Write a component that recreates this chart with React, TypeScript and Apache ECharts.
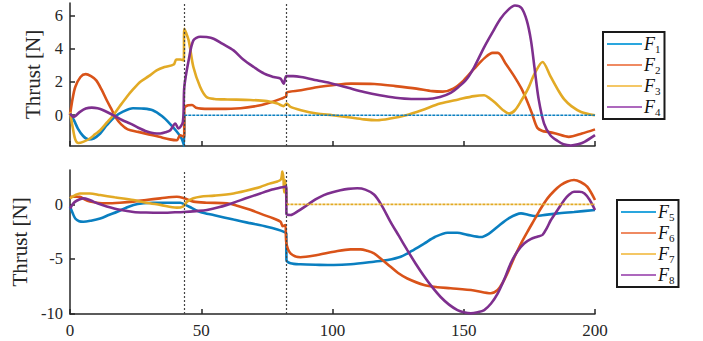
import React, { useEffect, useRef } from 'react';
import * as echarts from 'echarts';

// ---- axes / ticks ----
const xTicks = [0, 50, 100, 150, 200];
const topYTicks = [0, 2, 4, 6];
const bottomYTicks = [-10, -5, 0];
const switchTimes = [43.5, 82.4];
const yLabel = 'Thrust [N]';

const topNames = ['F1', 'F2', 'F3', 'F4'];
const bottomNames = ['F5', 'F6', 'F7', 'F8'];

// ---- top panel series [time, thrust] ----
const topF1 = [[0,0.1],[1.5,-0.3],[3,-0.8],[5,-1.25],[7,-1.45],[9,-1.4],[11.5,-1.1],[14,-0.6],[17,-0.1],[20,0.2],[24,0.42],[28,0.4],[31.5,0.3],[35,-0.05],[38,-0.5],[40.5,-0.95],[42.5,-1.4],[43.5,-1.85],[43.55,0]];
const topF1Flat = [[43.55,0],[200,0]];
const topF2 = [[0,0],[1,1.0],[2,1.7],[4,2.3],[6,2.47],[8,2.35],[10,2.1],[12,1.55],[14,0.9],[16,0.3],[17.5,-0.15],[19.5,-0.55],[22,-0.85],[26,-1.0],[30,-1.15],[34,-1.3],[38,-1.45],[40.7,-1.5],[42,-1.2],[43.5,-1.3],[43.55,0.4],[45,0.6],[46.5,0.62],[48,0.45],[50,0.4],[57,0.38],[65,0.42],[71,0.55],[75,0.7],[80.5,1.0],[82.4,1.15],[82.45,1.35],[88,1.5],[94,1.68],[100,1.8],[107,1.9],[116,1.88],[124,1.75],[132,1.6],[138,1.45],[142,1.42],[146,1.6],[150,2.1],[154,2.8],[158,3.45],[161,3.75],[163,3.75],[166,3.1],[169,2.4],[172,1.6],[174,0.9],[176,0.1],[178,-0.75],[180,-0.95],[182,-1.0],[185,-1.1],[190,-1.3],[195,-1.1],[200,-0.85]];
const topF3 = [[0,0.2],[1,-0.7],[2,-1.45],[3.2,-1.67],[5,-1.6],[7.6,-1.4],[9.5,-1.15],[11.5,-0.9],[14,-0.45],[16.5,0],[19,0.55],[21.6,1.1],[24,1.55],[26.7,2.0],[30,2.35],[33,2.7],[36,2.9],[39.5,3.05],[40.5,3.35],[42,3.35],[43.3,3.3],[43.55,5.2],[45.2,4.5],[47,2.9],[49.6,1.7],[52,1.1],[55,0.98],[60,0.95],[68.7,0.92],[75,0.85],[79,0.7],[81.4,0.55],[82.5,0.7],[84,0.5],[88,0.3],[94,0.1],[100,0],[106,-0.12],[112,-0.25],[117,-0.3],[122,-0.2],[128,0],[134,0.3],[141,0.7],[148,0.95],[154,1.15],[157.8,1.2],[160,1.0],[162,0.75],[165,0.3],[167.3,0.1],[169.5,0.3],[172,0.9],[174.5,1.6],[177,2.5],[180,3.2],[183,2.35],[186,1.5],[188.3,0.95],[191,0.55],[194.7,0.2],[200,0]];
const topF4 = [[0,0.1],[1.3,-0.1],[3.8,0.2],[6,0.4],[8.3,0.46],[10.5,0.42],[12.7,0.3],[16.5,0],[20,-0.3],[23,-0.5],[26,-0.75],[29.3,-0.98],[32,-1.08],[34.4,-1.1],[36.5,-1.02],[38.2,-0.9],[40.1,-0.5],[41.3,-0.8],[43,-0.4],[43.55,1.7],[45.2,3.3],[47,4.5],[49.6,4.72],[52,4.7],[54.7,4.6],[58,4.3],[62.3,3.9],[66,3.35],[70,2.9],[74,2.5],[77.6,2.3],[80.2,2.2],[81.4,1.9],[82.45,2.35],[85,2.35],[88,2.3],[94,2.1],[100,1.9],[106,1.65],[112,1.4],[118,1.2],[124,1.05],[130,0.98],[136,0.98],[141,1.1],[145,1.35],[148,1.7],[151,2.15],[154,2.9],[157.8,4.1],[161,5.0],[164,5.8],[167,6.35],[169.5,6.6],[172,6.45],[174,5.7],[175.6,4.5],[177,2.8],[178.5,1.0],[180.6,-0.5],[183,-1.2],[185.8,-1.55],[188,-1.75],[190.8,-1.82],[193.5,-1.75],[196,-1.6],[200,-1.2]];

// ---- bottom panel series [time, thrust] ----
const botF5 = [[0,-0.2],[1,-0.8],[2,-1.3],[3.5,-1.55],[5.1,-1.6],[8,-1.5],[11.5,-1.3],[15,-0.95],[17.8,-0.7],[21,-0.35],[24.2,-0.05],[28,0.1],[31.8,0.15],[37,0.15],[42,0.15],[44,-0.05],[46.5,-0.35],[49.6,-0.7],[55,-1.0],[62.3,-1.4],[68,-1.7],[75,-2.05],[79,-2.3],[81.3,-2.5],[82.4,-2.7],[82.45,-5.1],[84,-5.4],[87.8,-5.5],[95,-5.55],[100.5,-5.57],[106.9,-5.5],[115.8,-5.26],[121,-5.1],[126,-4.8],[130,-4.3],[134.9,-3.6],[139,-3.0],[143.8,-2.6],[147.5,-2.6],[151.4,-2.8],[156.5,-3.0],[159.5,-2.7],[162.9,-2.05],[167,-1.3],[171.8,-0.83],[174.5,-0.95],[176.8,-1.07],[180,-1.0],[185.7,-0.83],[192,-0.7],[200,-0.52]];
const botF6 = [[0,0.7],[3.8,0.7],[5.5,0.45],[7.6,0.25],[11,0.12],[14,0.1],[19,0.15],[24.2,0.25],[29,0.4],[34.4,0.55],[40.7,0.7],[43.5,0.55],[47,0.25],[52,0.15],[59.8,0.1],[64,-0.15],[68.7,-0.5],[73,-0.9],[77.6,-1.3],[80.2,-1.6],[81,-2.0],[82,-1.9],[82.45,-3.6],[84,-4.5],[87.8,-4.85],[94.2,-4.65],[100.5,-4.35],[106.9,-4.13],[110.7,-4.13],[113,-4.25],[115.8,-4.5],[119,-5.1],[122,-5.7],[125,-6.3],[128.5,-6.8],[134.9,-7.4],[140,-7.6],[145,-7.7],[153.9,-7.9],[160.3,-8.15],[162.9,-7.85],[164.8,-7.2],[166.7,-6.3],[169,-5.0],[171.8,-3.6],[174.3,-2.5],[176.8,-1.45],[179.3,-0.4],[181.9,0.55],[184.5,1.25],[187,1.77],[189.5,2.1],[192,2.23],[194.5,2.05],[197.1,1.6],[200,0.4]];
const botF7 = [[0,0.55],[2,0.85],[3.8,1.0],[7.6,1.0],[11.5,0.85],[17,0.65],[24.2,0.4],[29,0.15],[34.4,-0.05],[40.7,-0.3],[43,-0.2],[44.6,0.25],[47,0.55],[49.6,0.7],[55,0.8],[62.3,1.0],[67,1.25],[72.5,1.6],[76,1.9],[79,2.1],[80.4,2.3],[80.9,3.0],[81.3,2.4],[81.6,1.1],[82.1,2.2],[82.45,0]];
const botF7Flat = [[82.45,0],[200,0]];
const botF8 = [[0,-0.4],[1,0.0],[2,0.25],[3.5,0.45],[5.1,0.55],[7,0.45],[8.9,0.25],[11.5,0.0],[14,-0.2],[19,-0.5],[24.2,-0.7],[29,-0.75],[34.4,-0.77],[40,-0.73],[43.3,-0.7],[48,-0.62],[52.2,-0.52],[57,-0.25],[62.3,0.15],[67,0.55],[72.5,1.0],[77,1.35],[81.4,1.6],[82.4,1.65],[82.45,-0.85],[84,-0.98],[87,-0.6],[90.3,-0.07],[93.5,0.45],[96.7,0.85],[100,1.12],[103,1.3],[106,1.42],[109.4,1.47],[112.5,1.35],[115.8,0.9],[118.5,0],[122.1,-1.6],[125.3,-2.9],[128.5,-4.2],[131.7,-5.45],[134.9,-6.6],[138,-7.6],[141.2,-8.5],[144.4,-9.2],[147.6,-9.7],[150,-9.9],[152.7,-10.0],[155.3,-9.9],[157.8,-9.7],[160.4,-9.1],[162.9,-8.2],[165.4,-6.9],[167.9,-5.4],[170.5,-4.3],[173,-3.6],[175.5,-3.2],[178,-2.97],[180,-2.8],[181.6,-2.2],[183.2,-1.44],[185.8,-0.5],[188.3,0.4],[190.2,0.9],[192,1.15],[194,1.15],[196,1.0],[198,0.4],[200,-0.52]];

const lineColors = ['#0a7fc0', '#d95319', '#e2aa25', '#7e2f8e'];
const legendColors = ['#2aa6de', '#ef8a62', '#f4c765', '#ad68bd'];
const AXIS = '#262626';
const SERIF = '"Liberation Serif", "DejaVu Serif", serif';

function xAxisCfg(grid: number, showLabels: boolean) {
  return {
    type: 'value', gridIndex: grid, min: 0, max: 200, interval: 50,
    axisLine: { show: true, onZero: false, lineStyle: { color: AXIS, width: 1.5 } },
    axisTick: { show: true, inside: true, length: 5, lineStyle: { color: AXIS, width: 1.5 }, customValues: xTicks },
    axisLabel: { show: showLabels, customValues: xTicks, color: AXIS, fontFamily: SERIF, fontSize: 17, margin: 8 },
    splitLine: { show: false },
  };
}
function yAxisCfg(grid: number, min: number, max: number, ticks: number[]) {
  return {
    type: 'value', gridIndex: grid, min, max,
    name: yLabel, nameLocation: 'middle', nameGap: 21,
    nameTextStyle: { color: AXIS, fontFamily: SERIF, fontSize: 21 },
    axisLine: { show: true, onZero: false, lineStyle: { color: AXIS, width: 1.5 } },
    axisTick: { show: true, inside: true, length: 5, lineStyle: { color: AXIS, width: 1.5 }, customValues: ticks },
    axisLabel: { show: true, customValues: ticks, color: AXIS, fontFamily: SERIF, fontSize: 16.5, margin: 7 },
    splitLine: { show: false },
  };
}
function lineSeries(name: string, data: number[][], idx: number, color: string, extra: any = {}) {
  return {
    type: 'line', name, data, xAxisIndex: idx, yAxisIndex: idx,
    showSymbol: false, symbol: 'none', smooth: 0.3,
    lineStyle: { color, width: 2.6 }, itemStyle: { color },
    emphasis: { disabled: true },
    ...extra,
  };
}
const markLines = {
  silent: true, symbol: ['none', 'none'], label: { show: false },
  lineStyle: { color: '#444', type: [2, 2], width: 1.2 },
  data: switchTimes.map((t) => ({ xAxis: t })),
};
function legendCfg(names: string[], left: number, top: number) {
  return {
    orient: 'vertical', left, top,
    data: names.map((n, i) => ({ name: n, itemStyle: { color: legendColors[i] } })),
    icon: 'rect', itemWidth: 35, itemHeight: 2, itemGap: 1,
    padding: [2, 4, 2, 4],
    borderColor: '#1a1a1a', borderWidth: 2, backgroundColor: '#fff',
    selectedMode: false,
    formatter: (n: string) => `{f|F}{s|${n.slice(1)}}`,
    textStyle: {
      padding: [0, 0, 0, -3],
      rich: {
        f: { fontFamily: SERIF, fontStyle: 'italic', fontSize: 18, lineHeight: 20, color: '#111' },
        s: { fontFamily: SERIF, fontSize: 11, lineHeight: 20, color: '#111', padding: [9, 0, 0, 0] },
      },
    },
  };
}

export default function App() {
  const ref = useRef<HTMLDivElement>(null);
  useEffect(() => {
    if (!ref.current) return;
    const chart = echarts.init(ref.current, undefined, { renderer: 'svg' });
    const topData = [topF1, topF2, topF3, topF4];
    const botData = [botF5, botF6, botF7, botF8];
    const series: any[] = [];
    topData.forEach((d, i) => series.push(lineSeries(topNames[i], d, 0, lineColors[i], i === 0 ? { markLine: markLines } : {})));
    series.push(lineSeries(topNames[0], topF1Flat, 0, lineColors[0], { smooth: false, lineStyle: { color: lineColors[0], width: 1.6, type: [3, 1] } }));
    botData.forEach((d, i) => series.push(lineSeries(bottomNames[i], d, 1, lineColors[i], i === 0 ? { markLine: markLines } : {})));
    series.push(lineSeries(bottomNames[2], botF7Flat, 1, lineColors[2], { smooth: false, lineStyle: { color: lineColors[2], width: 1.6, type: [3, 1] } }));
    chart.setOption({
      animation: false,
      backgroundColor: '#fff',
      grid: [
        { left: 70, top: 3, width: 525, height: 143 },
        { left: 70, top: 170, width: 525, height: 144 },
      ],
      xAxis: [xAxisCfg(0, false), xAxisCfg(1, true)],
      yAxis: [yAxisCfg(0, -1.85, 6.75, topYTicks), yAxisCfg(1, -10.06, 3.15, bottomYTicks)],
      legend: [legendCfg(topNames, 603, 32), legendCfg(bottomNames, 617, 200)],
      series,
    });
    return () => chart.dispose();
  }, []);
  return <div ref={ref} style={{ position: 'fixed', left: 0, top: 0, width: 703, height: 341 }} />;
}
